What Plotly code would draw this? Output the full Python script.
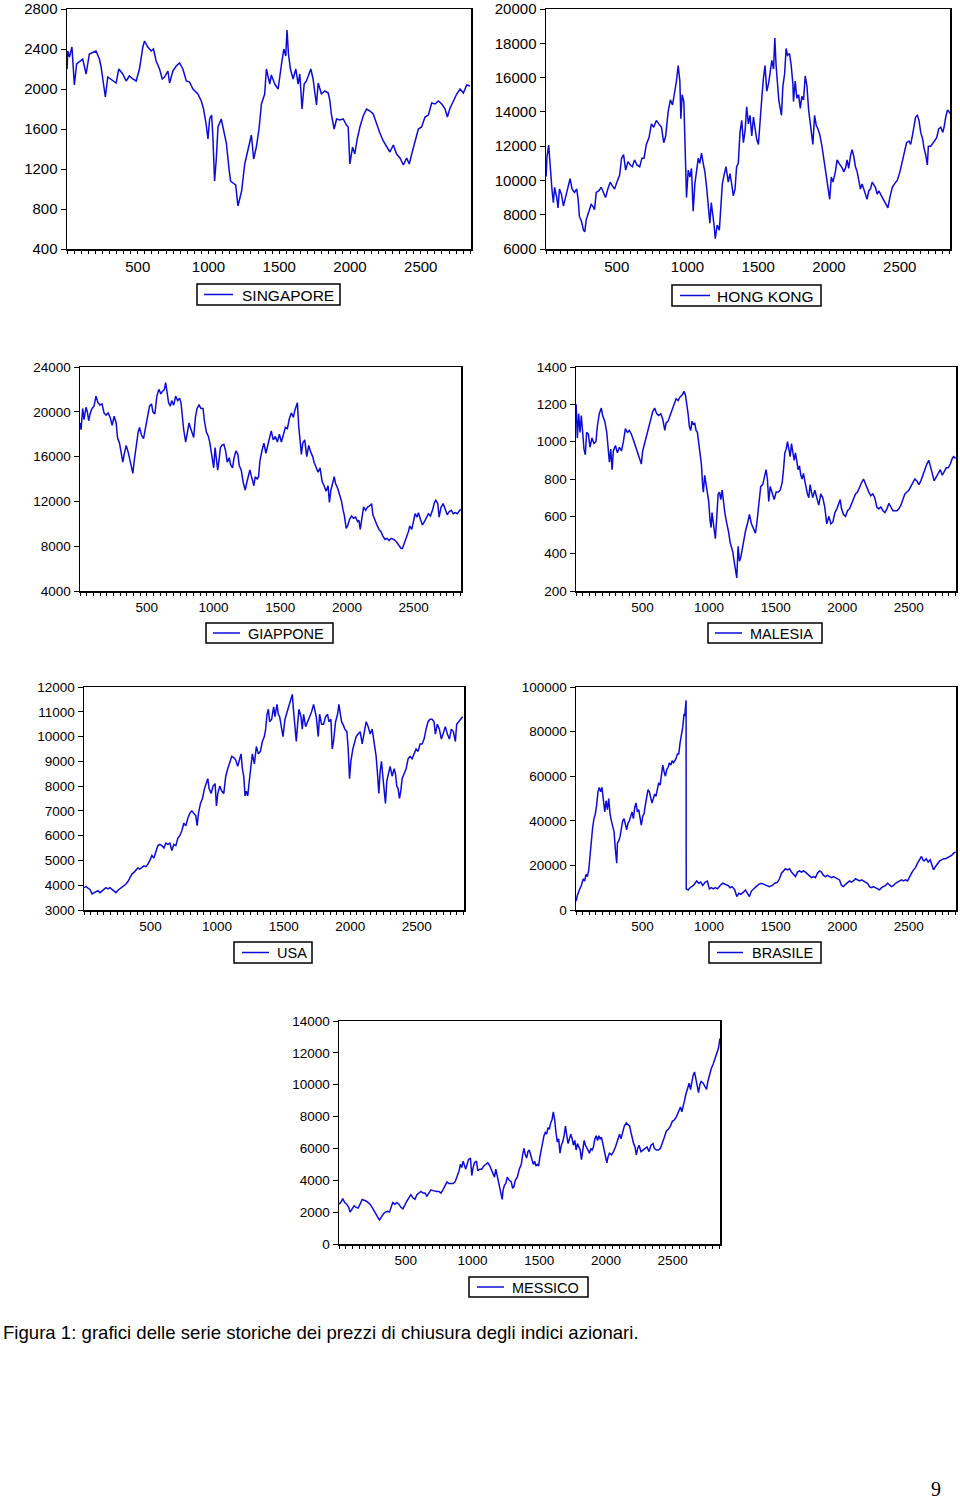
import plotly.graph_objects as go

W, H = 960, 1502
LINE_COLOR = "#0C0CD8"
FONT = "Liberation Sans, Arial, sans-serif"

# ---------------- data (observation number, closing price) ----------------
SINGAPORE_OBS = [1,5,17,35,52,68,111,135,158,205,229,241,253,271,288,323,347,366,394,418,441,465,489,512,536,548,571,595,611,630,654,673,689,713,725,748,772,795,819,843,866,890,925,949,965,984,996,1008,1022,1031,1043,1055,1067,1090,1107,1126,1145,1156,1173,1192,1208,1220,1234,1256,1279,1303,1319,1338,1357,1374,1397,1409,1433,1444,1468,1492,1515,1532,1546,1555,1565,1579,1598,1617,1633,1645,1661,1676,1692,1711,1723,1739,1751,1763,1775,1798,1822,1846,1857,1869,1888,1905,1928,1952,1975,1987,1999,2018,2034,2051,2070,2093,2117,2141,2164,2188,2211,2235,2259,2282,2306,2329,2353,2377,2400,2419,2436,2459,2483,2506,2530,2554,2577,2601,2624,2648,2672,2688,2707,2731,2754,2778,2801,2825,2848]
SINGAPORE = [2200,2380,2320,2420,2040,2250,2300,2150,2350,2380,2300,2220,2100,1920,2120,2080,2060,2200,2150,2080,2130,2100,2080,2200,2420,2480,2420,2380,2400,2280,2200,2100,2120,2180,2060,2180,2230,2260,2200,2080,2070,2000,1950,1880,1800,1640,1500,1700,1740,1520,1080,1300,1620,1700,1580,1460,1200,1080,1060,1040,830,900,980,1250,1400,1540,1300,1420,1600,1850,1950,2200,2050,2140,2050,2000,2240,2400,2330,2590,2350,2200,2100,2200,2050,2150,1800,2050,2080,2150,2200,2100,1950,1840,2060,1950,1980,1960,1890,1740,1600,1700,1690,1700,1640,1620,1250,1420,1350,1500,1620,1730,1800,1780,1750,1640,1560,1480,1420,1370,1440,1350,1310,1240,1310,1250,1350,1480,1600,1620,1720,1740,1860,1850,1880,1850,1800,1720,1810,1880,1950,2000,1960,2040,2030]

HONGKONG_OBS = [1,7,19,28,43,52,61,76,85,95,109,123,137,154,170,184,201,217,227,236,251,265,274,284,303,319,331,343,355,374,390,407,421,437,454,468,485,501,520,534,548,563,579,596,610,626,643,662,678,693,709,728,745,761,780,797,816,832,846,863,879,894,910,922,934,946,953,962,974,988,993,1005,1017,1028,1040,1052,1064,1076,1087,1099,1111,1123,1135,1147,1158,1168,1177,1189,1196,1210,1225,1234,1246,1258,1272,1288,1300,1312,1324,1336,1347,1359,1371,1383,1395,1407,1418,1430,1442,1454,1466,1478,1489,1501,1513,1525,1537,1548,1560,1574,1584,1596,1608,1617,1626,1636,1645,1655,1664,1674,1686,1697,1707,1721,1733,1745,1749,1761,1773,1785,1797,1808,1820,1832,1844,1856,1868,1879,1886,1898,1910,1922,1934,1950,1962,1974,1986,1998,2005,2016,2028,2045,2057,2071,2080,2095,2104,2116,2128,2139,2151,2163,2175,2187,2199,2210,2222,2234,2246,2258,2269,2281,2293,2305,2317,2328,2340,2352,2364,2376,2392,2404,2416,2430,2447,2463,2482,2501,2518,2534,2548,2565,2577,2589,2600,2612,2624,2636,2648,2662,2671,2683,2695,2702,2719,2735,2749,2761,2775,2790,2804,2813,2825,2837,2849,2855]
HONGKONG = [10230,11380,12060,10800,9400,8700,9600,9000,8400,9500,9200,8500,9000,9600,10100,9500,9300,9500,8900,7900,7600,7100,7000,7700,8200,8600,8500,8300,9300,9400,9600,9300,9000,9500,9900,9700,9500,9900,10300,11300,11500,10600,11100,10900,10800,11200,10900,10800,11300,11300,12100,12500,13300,13100,13500,13300,13100,12200,12600,14000,14700,14400,15200,15800,16700,15800,13600,15000,14600,11100,9000,10600,10200,10700,8200,9800,10600,11300,11000,11600,11000,10500,9600,8400,7500,8700,8200,7300,6600,7400,7100,8200,9800,10300,10800,9900,10400,9800,9100,9500,10800,11000,12800,13500,12200,12900,14300,13300,13800,12600,13700,13000,12400,12100,13800,14800,16000,16700,15200,15700,16300,17000,16500,18300,16700,15500,14700,14200,13800,15500,16200,17700,17300,17400,16700,15600,14600,15800,14800,15000,14200,14900,14700,16100,15500,14100,13300,12400,12100,13800,13200,13000,12700,12000,11300,10900,10000,9200,8900,10200,9900,10500,11200,11000,10900,10700,10500,10700,11200,10700,11400,11800,11400,10800,10500,10100,9500,9800,9500,9200,8900,9400,9500,9900,9700,9600,9200,9400,9200,9000,8800,8600,8400,9000,9600,9800,10000,10500,11100,11800,12200,12300,12100,12600,13100,13700,13800,13500,12800,12400,11900,11500,10900,12000,12000,12200,12300,12500,13000,13100,12800,13100,13700,14100,14000,13900]

GIAPPONE_OBS = [1,8,20,30,45,55,65,75,90,105,120,135,150,165,180,195,210,226,241,256,271,281,296,306,321,331,346,361,376,388,396,406,416,426,436,446,461,476,491,506,521,536,546,561,576,591,606,616,632,642,652,664,677,687,702,717,732,747,757,767,777,792,807,817,827,840,852,865,877,892,907,922,932,947,962,972,982,992,1002,1012,1022,1032,1042,1052,1062,1078,1093,1103,1118,1128,1143,1153,1168,1183,1193,1208,1223,1238,1248,1258,1273,1283,1293,1303,1313,1328,1338,1348,1363,1378,1393,1403,1418,1433,1448,1464,1479,1494,1509,1524,1539,1554,1569,1584,1599,1609,1619,1629,1639,1649,1659,1669,1684,1699,1714,1729,1744,1754,1769,1784,1799,1814,1829,1844,1859,1869,1880,1895,1905,1915,1930,1945,1960,1970,1980,1995,2005,2020,2035,2050,2065,2080,2090,2100,2110,2125,2140,2155,2170,2185,2195,2210,2225,2240,2255,2270,2286,2301,2316,2331,2351,2371,2391,2406,2416,2431,2446,2461,2471,2486,2496,2511,2526,2536,2551,2566,2581,2596,2611,2626,2641,2656,2666,2681,2691,2706,2721,2737,2752,2767,2782,2797,2812,2827,2842,2852]
GIAPPONE = [19000,18400,20300,19300,20400,20000,19200,19800,20300,20500,21400,20800,20600,20700,19900,19700,19900,19500,18800,19600,19000,17700,17200,16400,15500,16200,17000,16400,15600,14700,14500,15600,16600,17600,18200,18600,17900,17600,18500,19400,20500,20700,20000,19800,21400,22000,21600,21800,22000,22600,21700,20800,20500,21000,20600,21400,21000,21200,20800,19500,18400,17300,18200,19000,18600,18200,17700,19500,20300,20600,20300,20300,19200,18200,17800,17300,16500,15700,15000,16800,16000,14800,15700,16800,17000,17100,16400,15500,15900,15300,15000,15800,16500,16200,15200,14800,13700,13000,13600,14100,14800,14300,13700,13400,14200,14000,14200,15600,16500,17200,16300,16800,17800,18300,17500,17800,17300,18000,17300,18100,18600,18500,19400,19900,19500,20100,20400,20800,18700,17600,16200,17200,17500,16000,17000,16400,16000,15500,15000,14600,15000,13800,13400,12900,13400,11900,13000,13700,14200,13600,13200,12600,12000,11300,10800,9600,9800,10400,10700,10500,10600,10200,10300,9500,10300,11500,11200,11500,11600,11800,10800,10300,9900,9500,9300,8900,8600,8700,8500,8700,8600,8400,8100,7800,7800,8400,8800,9300,9800,9500,10200,10900,10600,11000,10400,9900,10200,10600,10900,10700,11200,11900,12100,11800,10600,11500,11800,11300,10800,11100,11200,10900,11000,10900,11100,11300]

MALESIA_OBS = [1,10,20,30,40,50,60,70,80,93,105,120,135,150,160,175,190,200,216,231,241,251,261,271,281,296,311,326,341,356,371,386,401,416,431,446,461,476,491,501,516,531,546,561,576,591,606,621,637,652,667,677,692,707,722,737,752,767,782,797,812,822,832,842,852,862,872,882,892,902,912,922,932,942,952,957,967,977,987,997,1007,1015,1022,1032,1042,1047,1058,1068,1078,1088,1098,1108,1118,1128,1138,1148,1158,1168,1178,1188,1198,1208,1218,1228,1238,1248,1258,1273,1288,1303,1318,1333,1348,1358,1373,1388,1403,1418,1428,1438,1448,1459,1474,1489,1504,1519,1534,1549,1559,1569,1579,1589,1599,1609,1619,1629,1639,1649,1659,1669,1679,1689,1699,1709,1719,1729,1739,1749,1759,1769,1779,1794,1809,1824,1839,1854,1869,1884,1900,1915,1930,1945,1960,1975,1985,1995,2010,2025,2040,2055,2070,2085,2100,2115,2130,2145,2160,2170,2185,2200,2215,2230,2245,2260,2275,2290,2306,2321,2336,2351,2366,2381,2396,2411,2426,2441,2456,2471,2486,2501,2516,2531,2546,2561,2576,2591,2606,2621,2636,2651,2661,2676,2691,2706,2721,2737,2752,2767,2782,2797,2812,2827,2837,2852]
MALESIA = [1200,1020,1150,1050,1140,1060,960,930,1050,1040,970,1020,990,1000,1080,1150,1180,1140,1110,1050,980,890,960,850,950,980,940,970,950,1000,1070,1050,1060,1040,1010,980,950,920,880,950,990,1040,1080,1120,1160,1180,1150,1140,1150,1120,1060,1100,1110,1140,1170,1190,1230,1220,1240,1250,1270,1250,1210,1150,1080,1060,1110,1090,1100,1060,1050,1000,940,880,760,730,820,770,720,680,580,540,620,560,520,480,600,720,730,690,740,660,620,580,550,510,460,430,410,360,320,270,440,360,380,420,470,520,560,610,560,530,510,560,680,760,770,820,850,800,680,760,730,690,730,730,740,780,850,940,960,1000,960,920,990,940,900,940,900,850,870,820,800,830,790,750,720,700,770,730,700,740,700,660,720,700,650,560,600,560,570,620,640,670,690,640,610,600,630,640,670,700,720,730,760,780,800,780,750,730,710,720,700,650,640,650,630,620,640,670,650,630,630,630,640,660,690,720,730,740,760,780,800,790,770,790,820,860,880,900,870,830,790,810,830,850,820,840,860,860,880,910,920,910]

USA_OBS = [1,15,30,45,60,75,90,105,120,135,150,165,180,195,210,225,240,255,270,285,300,315,330,345,360,375,390,405,420,435,450,465,480,495,510,525,540,555,570,585,600,615,630,645,660,675,690,705,720,735,750,765,780,795,810,825,840,850,860,875,890,905,920,930,940,955,970,985,995,1005,1020,1035,1050,1065,1080,1095,1110,1125,1140,1155,1170,1180,1190,1200,1210,1220,1230,1240,1250,1265,1280,1295,1310,1325,1340,1355,1365,1375,1385,1395,1410,1425,1435,1450,1460,1470,1485,1495,1510,1525,1540,1555,1565,1575,1585,1595,1605,1615,1630,1640,1650,1665,1680,1695,1710,1725,1735,1745,1760,1770,1785,1800,1815,1830,1840,1855,1865,1875,1890,1905,1915,1925,1935,1945,1960,1975,1985,1995,2005,2020,2035,2045,2060,2075,2090,2105,2120,2135,2150,2165,2180,2195,2205,2215,2225,2235,2245,2255,2265,2275,2285,2300,2315,2330,2340,2350,2360,2370,2380,2390,2405,2420,2435,2450,2465,2480,2495,2510,2525,2540,2555,2570,2585,2600,2615,2630,2640,2655,2670,2685,2700,2715,2730,2745,2760,2775,2790,2800,2815,2830,2845]
USA = [3900,3950,3880,3830,3650,3700,3720,3780,3700,3780,3830,3900,3850,3900,3830,3750,3700,3800,3850,3900,3980,4050,4150,4300,4450,4520,4620,4700,4650,4720,4780,4750,4850,5000,5200,5100,5350,5600,5650,5600,5500,5700,5650,5700,5400,5650,5600,5900,6000,6200,6500,6400,6700,6900,7000,6900,6800,6400,6900,7300,7500,7900,8100,8300,7900,7700,8000,8100,7200,7700,8000,7800,7700,8400,8700,9000,9200,9150,9050,8800,9100,9300,8700,8400,7600,7800,7600,8200,8600,9300,8900,9600,9300,9400,9800,10000,10300,10900,11100,10600,10700,11200,10800,11300,10900,10800,10200,10000,10700,11000,11200,11500,11700,11000,10400,9800,10500,11100,10800,10300,10900,10400,10600,10800,11000,11300,11000,10800,10000,10900,10500,10500,10800,10900,10600,10700,9500,9800,10600,10900,11300,10900,10600,10500,10300,10200,9500,8300,9000,9500,9800,10000,10100,10200,9700,10200,10600,10400,10100,10300,9800,9200,8500,7700,8600,9000,8400,7800,7300,8200,8500,8800,8400,8700,8500,8000,7900,7500,7800,8300,8500,8700,9100,9200,9100,9300,9500,9400,9700,9700,9900,10300,10600,10700,10700,10600,10100,10500,10300,9900,10200,10400,10100,9900,10300,10200,9800,10500,10600,10700,10800]

BRASILE_OBS = [1,10,25,40,55,65,75,85,95,105,115,125,135,145,155,165,175,185,195,206,216,226,236,246,256,266,276,286,296,306,311,321,331,341,351,361,371,381,391,401,411,421,431,441,451,461,471,481,491,501,511,521,531,541,551,561,571,581,591,601,611,621,632,642,652,662,672,682,692,702,712,722,732,742,752,762,772,782,792,802,812,817,827,828,842,857,882,907,922,937,952,972,987,1002,1017,1032,1047,1063,1083,1103,1123,1143,1158,1173,1193,1208,1223,1238,1258,1273,1288,1303,1318,1333,1353,1373,1393,1413,1433,1453,1474,1494,1514,1529,1544,1559,1574,1589,1604,1619,1634,1649,1664,1679,1694,1709,1724,1739,1754,1769,1784,1799,1814,1829,1844,1859,1874,1890,1905,1920,1935,1950,1965,1980,1995,2010,2025,2040,2055,2070,2085,2100,2115,2130,2145,2160,2175,2190,2205,2220,2235,2250,2265,2280,2296,2311,2326,2341,2356,2371,2386,2401,2416,2431,2446,2461,2476,2491,2506,2521,2536,2551,2566,2581,2596,2606,2616,2631,2646,2661,2676,2686,2701,2716,2732,2747,2762,2777,2792,2807,2822,2837,2852]
BRASILE = [4000,6500,9000,11000,14000,13000,16000,15000,17500,25000,30000,37000,41000,43000,47000,53000,55000,53000,55000,48000,44000,49000,45000,50000,43000,40000,38000,35000,27000,21000,30000,31000,33000,37000,40000,41000,38000,36000,39000,40000,42000,44000,41000,46000,48000,44000,45000,41000,38000,42000,43000,47000,50000,54000,53000,51000,48000,50000,52000,51000,55000,57000,56000,60000,65000,62000,60000,63000,64000,66000,65000,67000,66000,67000,68000,70000,70000,75000,78000,82000,88000,87000,94000,9500,9000,10000,11000,13000,12000,12500,11000,12500,13000,9500,10000,9500,10000,9500,11000,12000,11500,11000,10000,10500,9000,6000,7500,7000,8000,9000,7500,6000,8500,9500,10500,11500,12000,11500,11000,10500,11000,12000,12500,14000,16500,17500,18500,18000,18500,17000,16000,15000,17000,17500,17000,17500,17000,16000,15000,14500,15000,14500,16500,17500,17000,15500,15000,15500,15000,14500,15000,14500,14000,13500,11000,10500,11500,12500,13000,12500,13000,14000,13500,13000,13500,13000,12500,12000,10500,10000,10500,10000,9500,9000,10000,10500,11000,12000,11000,10500,11000,12000,12500,13000,13500,13000,13500,13000,15000,16500,18000,19000,21000,22500,24000,22500,22000,23000,21500,22500,20000,18000,19500,21000,22000,22500,23000,23000,23500,24000,24500,25500,26000]

MESSICO_OBS = [1,13,28,43,58,73,83,98,113,128,143,158,173,188,203,218,233,248,263,278,293,303,318,333,348,363,378,393,403,418,434,449,464,479,494,509,524,539,554,569,584,599,614,629,644,659,674,689,704,719,734,749,764,779,794,809,824,839,855,870,885,900,910,920,930,940,950,960,970,985,995,1005,1015,1030,1040,1055,1070,1085,1100,1115,1130,1145,1155,1165,1175,1185,1195,1205,1215,1223,1230,1240,1250,1261,1276,1291,1301,1311,1321,1336,1351,1366,1376,1386,1396,1406,1416,1426,1436,1446,1456,1466,1476,1486,1496,1506,1516,1526,1536,1546,1556,1566,1576,1586,1596,1606,1616,1626,1636,1646,1656,1666,1676,1687,1697,1707,1717,1727,1737,1747,1757,1767,1777,1787,1797,1807,1817,1827,1837,1847,1857,1867,1877,1887,1897,1907,1917,1927,1937,1947,1957,1967,1977,1987,1997,2007,2017,2027,2042,2057,2072,2087,2103,2113,2128,2138,2153,2168,2178,2188,2198,2208,2218,2228,2238,2248,2263,2278,2293,2308,2323,2338,2353,2363,2378,2393,2408,2423,2438,2453,2468,2483,2498,2514,2529,2544,2559,2569,2579,2589,2599,2614,2624,2634,2644,2654,2664,2674,2684,2694,2704,2714,2729,2744,2754,2764,2779,2789,2804,2819,2834,2844,2854]
MESSICO = [2500,2600,2850,2600,2500,2300,2000,2200,2400,2300,2250,2500,2800,2750,2700,2600,2500,2300,2100,1900,1700,1500,1700,1900,2000,2050,2000,2300,2600,2500,2600,2500,2300,2200,2500,2700,2900,3100,2900,2800,3100,3200,3300,3200,3200,3000,3200,3400,3350,3300,3300,3300,3200,3400,3700,3900,3800,3800,3800,3900,4200,4600,5000,4800,5200,4900,4700,5000,5300,5400,4300,4800,5100,5200,4600,4700,4700,4900,5000,5100,4900,4600,4400,4200,4700,4300,3800,3300,3000,2800,3400,3700,3800,4200,4000,3900,3500,3600,4000,4200,4700,5000,5600,6000,5600,5400,5800,5900,5600,5300,5000,5200,4900,5000,4900,5500,6000,6400,6800,7000,6900,7300,7200,7600,7800,8300,7800,7000,6400,6600,5700,6200,6400,6800,7400,6800,6300,6600,6900,6600,6200,6500,5900,6300,6100,5900,5300,5900,6500,6200,6000,5800,5700,6000,5900,6100,6600,6800,6500,6800,6600,6700,6300,5900,5300,5100,5500,5700,5600,5800,6100,6500,6900,6600,7000,7400,7600,7500,7400,7000,6600,6300,6100,5600,6000,6200,5800,5900,6000,6100,5800,6200,6300,6000,5900,5900,6000,6300,6700,7100,7200,7400,7700,7800,8000,8300,8600,8300,8600,9000,9400,9900,10100,9700,10300,10600,10800,10400,9900,9500,10000,10200,10100,9800,9700,10200,10700,11000,11300,11700,12000,12300,12900]

TICKS_SINGAPORE = [400, 800, 1200, 1600, 2000, 2400, 2800]
TICKS_HONGKONG = [6000, 8000, 10000, 12000, 14000, 16000, 18000, 20000]
TICKS_GIAPPONE = [4000, 8000, 12000, 16000, 20000, 24000]
TICKS_MALESIA = [200, 400, 600, 800, 1000, 1200, 1400]
TICKS_USA = [3000, 4000, 5000, 6000, 7000, 8000, 9000, 10000, 11000, 12000]
TICKS_BRASILE = [0, 20000, 40000, 60000, 80000, 100000]
TICKS_MESSICO = [0, 2000, 4000, 6000, 8000, 10000, 12000, 14000]
X_TICKS = [500, 1000, 1500, 2000, 2500]

CAPTION = "Figura 1: grafici delle serie storiche dei prezzi di chiusura degli indici azionari."
PAGE_NUMBER = "9"

# ---------------- layout (pixel boxes) ----------------
panels = [
    dict(name="SINGAPORE", obs=SINGAPORE_OBS, vals=SINGAPORE, ticks=TICKS_SINGAPORE,
         box=(67, 9, 471, 249), fs=15, lbox=(197, 284, 340, 305), lline=(204, 233), ltext=240, lfs=15.5),
    dict(name="HONG KONG", obs=HONGKONG_OBS, vals=HONGKONG, ticks=TICKS_HONGKONG,
         box=(546, 9, 950, 249), fs=15, lbox=(672, 285, 821, 306), lline=(680, 710), ltext=715, lfs=15.5),
    dict(name="GIAPPONE", obs=GIAPPONE_OBS, vals=GIAPPONE, ticks=TICKS_GIAPPONE,
         box=(80, 367, 461, 591), fs=13.5, lbox=(206, 623, 333, 643), lline=(213, 240), ltext=246, lfs=14.5),
    dict(name="MALESIA", obs=MALESIA_OBS, vals=MALESIA, ticks=TICKS_MALESIA,
         box=(576, 367, 956, 591), fs=13.5, lbox=(708, 623, 822, 643), lline=(715, 742), ltext=748, lfs=14.5),
    dict(name="USA", obs=USA_OBS, vals=USA, ticks=TICKS_USA,
         box=(84, 687, 464, 910), fs=13.5, lbox=(234, 942, 312, 963), lline=(242, 269), ltext=275, lfs=14.5),
    dict(name="BRASILE", obs=BRASILE_OBS, vals=BRASILE, ticks=TICKS_BRASILE,
         box=(576, 687, 956, 910), fs=13.5, lbox=(709, 942, 821, 963), lline=(717, 743), ltext=750, lfs=14.5),
    dict(name="MESSICO", obs=MESSICO_OBS, vals=MESSICO, ticks=TICKS_MESSICO,
         box=(339, 1021, 720, 1244), fs=13.5, lbox=(469, 1277, 588, 1297), lline=(477, 504), ltext=510, lfs=14.5),
]


def px(x):
    return x / W


def py(y):
    return 1 - y / H


fig = go.Figure()
shapes = []
annotations = []
layout = dict(
    width=W, height=H, autosize=False,
    margin=dict(l=0, r=0, t=0, b=0, pad=0, autoexpand=False),
    paper_bgcolor="white", plot_bgcolor="white",
    showlegend=False,
)

for i, p in enumerate(panels, start=1):
    assert len(p["obs"]) == len(p["vals"]), (p["name"], len(p["obs"]), len(p["vals"]))
    sfx = "" if i == 1 else str(i)
    x0, y0, x1, y1 = p["box"]
    fig.add_trace(go.Scatter(
        x=p["obs"], y=p["vals"], mode="lines", name=p["name"],
        line=dict(color=LINE_COLOR, width=1.5),
        xaxis="x" + sfx, yaxis="y" + sfx, hoverinfo="skip",
    ))
    tickfont = dict(family=FONT, size=p["fs"], color="black")
    layout["xaxis" + sfx] = dict(
        domain=[px(x0), px(x1)], anchor="y" + sfx, range=[0, 2855],
        tickmode="array", tickvals=X_TICKS, tickformat="d",
        ticks="outside", ticklen=3, tickwidth=1, tickcolor="black",
        showline=True, linecolor="black", linewidth=1.5, mirror=True,
        showgrid=False, zeroline=False, tickfont=tickfont, automargin=False,
        ticklabeloverflow="allow",
        minor=dict(tickmode="linear", tick0=0, dtick=50, ticks="outside",
                   ticklen=3, tickwidth=1, tickcolor="black", showgrid=False),
    )
    layout["yaxis" + sfx] = dict(
        domain=[py(y1), py(y0)], anchor="x" + sfx,
        range=[p["ticks"][0], p["ticks"][-1]],
        tickmode="array", tickvals=p["ticks"], tickformat="d",
        ticks="outside", ticklen=5, tickwidth=1, tickcolor="black",
        showline=True, linecolor="black", linewidth=1.5, mirror=True,
        showgrid=False, zeroline=False, tickfont=tickfont, automargin=False,
        ticklabeloverflow="allow",
    )
    # legend box drawn under each panel
    bx0, by0, bx1, by1 = p["lbox"]
    shapes.append(dict(type="rect", xref="paper", yref="paper",
                       x0=px(bx0), x1=px(bx1), y0=py(by1), y1=py(by0),
                       line=dict(color="black", width=1.5), fillcolor="rgba(0,0,0,0)"))
    ym = (by0 + by1) / 2
    shapes.append(dict(type="line", xref="paper", yref="paper",
                       x0=px(p["lline"][0]), x1=px(p["lline"][1]), y0=py(ym), y1=py(ym),
                       line=dict(color=LINE_COLOR, width=1.5)))
    annotations.append(dict(text=p["name"], xref="paper", yref="paper",
                            x=px(p["ltext"]), y=py(ym + 0.5), xanchor="left", yanchor="middle",
                            showarrow=False, font=dict(family=FONT, size=p["lfs"], color="black")))

annotations.append(dict(text=CAPTION, xref="paper", yref="paper",
                        x=px(1), y=py(1332), xanchor="left", yanchor="middle",
                        showarrow=False, font=dict(family=FONT, size=18.6, color="black")))
annotations.append(dict(text=PAGE_NUMBER, xref="paper", yref="paper",
                        x=px(936), y=py(1489), xanchor="center", yanchor="middle",
                        showarrow=False, font=dict(family="Liberation Serif, Times New Roman, serif",
                                                   size=20, color="black")))

layout["shapes"] = shapes
layout["annotations"] = annotations
fig.update_layout(**layout)

POST = (
    "document.documentElement.style.margin='0';"
    "document.body.style.margin='0';"
    "document.body.style.overflow='hidden';"
    "document.documentElement.style.overflow='hidden';"
    "var d=document.getElementById('{plot_id}');"
    "d.style.position='fixed';d.style.left='0px';d.style.top='0px';"
)
fig.write_html("out.html", config={"displayModeBar": False, "staticPlot": True}, post_script=POST)
